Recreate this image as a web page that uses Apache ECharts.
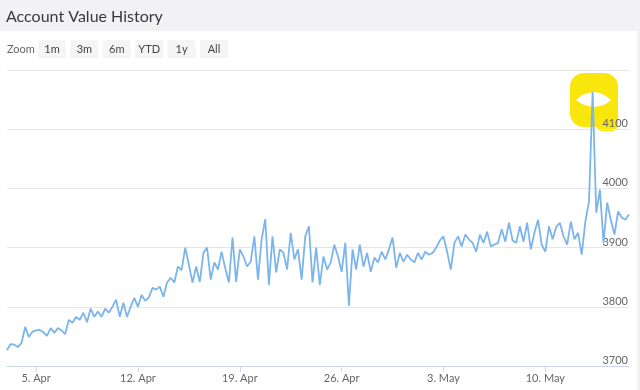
<!DOCTYPE html>
<html>
<head>
<meta charset="utf-8">
<script src="https://cdn.jsdelivr.net/npm/echarts@6/dist/echarts.min.js"></script>
<style>
html,body{margin:0;padding:0;background:#fff;}
#c{width:640px;height:390px;}
</style>
</head>
<body>
<div id="c"></div>
<script>
// ---- data ----
const titleText = 'Account Value History';
const zoomButtons = ['1m', '3m', '6m', 'YTD', '1y', 'All'];
const startTime = Date.UTC(2021, 3, 3, 0, 0);   // 3. Apr
const stepHours = 6;
const tickDates = [Date.UTC(2021,3,5), Date.UTC(2021,3,12), Date.UTC(2021,3,19), Date.UTC(2021,3,26), Date.UTC(2021,4,3), Date.UTC(2021,4,10)];
const tickLabels = ['5. Apr', '12. Apr', '19. Apr', '26. Apr', '3. May', '10. May'];
const yMin = 3700, yMax = 4200, yStep = 100;
const values = [
3727,3737,3736,3732,3739,3766,3749,3758,3760,3761,
3757,3751,3764,3756,3764,3760,3754,3778,3773,3783,
3778,3790,3774,3797,3783,3792,3783,3797,3790,3800,
3812,3783,3807,3783,3800,3815,3800,3820,3810,3816,
3832,3829,3834,3817,3841,3849,3841,3868,3862,3900,
3871,3841,3868,3842,3891,3900,3846,3875,3863,3893,
3865,3841,3917,3842,3897,3885,3868,3876,3919,3846,
3914,3948,3837,3919,3858,3897,3891,3863,3925,3880,
3897,3846,3919,3936,3841,3900,3837,3885,3863,3875,
3905,3885,3859,3908,3802,3897,3863,3905,3868,3891,
3859,3883,3875,3893,3880,3897,3917,3866,3891,3876,
3888,3880,3875,3891,3880,3893,3888,3891,3900,3912,
3919,3893,3863,3908,3919,3902,3922,3914,3908,3893,
3922,3908,3927,3902,3905,3908,3931,3910,3942,3912,
3908,3936,3910,3942,3897,3925,3947,3905,3893,3936,
3914,3935,3942,3919,3905,3944,3914,3925,3888,3944,
3978,4163,3959,3998,3908,3976,3947,3922,3961,3951,
3947,3956
];

// ---- chart ----
const step = stepHours * 3600 * 1000;
const seriesData = values.map((v, i) => [startTime + i * step, v]);
const chart = echarts.init(document.getElementById('c'), null, {renderer: 'canvas'});

const btnEls = [];
zoomButtons.forEach((b, i) => {
  btnEls.push({
    type: 'group', left: 38 + i * 32.4, top: 40,
    children: [
      {type: 'rect', shape: {x: 0, y: 0, width: 28, height: 18, r: 2}, style: {fill: '#f5f5f6'}},
      {type: 'text', style: {x: 14, y: 9, text: b, align: 'center', verticalAlign: 'middle', fill: '#444', font: '11px Lato'}}
    ]
  });
});

chart.setOption({
  animation: false,
  backgroundColor: '#fff',
  title: {
    text: titleText, left: 1, top: 4,
    textStyle: {fontFamily: 'Lato', fontSize: 16, fontWeight: 'normal', color: '#3a3a3a'}
  },
  graphic: [
    {type: 'rect', left: 0, top: 0, z: -10, shape: {width: 640, height: 31}, style: {fill: '#f2f2f4'}},
    {type: 'rect', left: 637, top: 31, z: -10, shape: {width: 3, height: 359}, style: {fill: '#f2f2f4'}},
    {type: 'text', left: 7, top: 44, style: {text: 'Zoom', fill: '#666', font: '11px Lato'}},
    ...btnEls,
    {type: 'rect', left: 570, top: 73, z: 0, shape: {width: 48, height: 54, r: 14}, style: {fill: '#f8e60c'}},
    {type: 'rect', left: 596, top: 110, z: 0, shape: {width: 22, height: 21, r: 6}, style: {fill: '#f8e60c'}},
    {type: 'polygon', z: 1, shape: {points: [[576,100],[582,95],[588,93],[594,92],[600,93],[606,96],[611,100],[606,104],[600,106],[594,107],[588,106],[582,104]]}, style: {fill: '#ffffff'}}
  ],
  grid: {left: 7, right: 11, top: 70, bottom: 24, containLabel: false},
  xAxis: {
    type: 'value',
    min: startTime,
    max: startTime + (values.length - 1) * step,
    axisLine: {show: true, lineStyle: {color: '#ccd6eb', width: 1}},
    axisTick: {show: true, customValues: tickDates, length: 6, lineStyle: {color: '#ccd6eb'}},
    axisLabel: {
      customValues: tickDates,
      margin: 7,
      color: '#666', fontSize: 11, fontFamily: 'Lato',
      formatter: function (v) {
        const idx = tickDates.indexOf(v);
        return idx >= 0 ? tickLabels[idx] : '';
      }
    },
    splitLine: {show: false}
  },
  yAxis: {
    type: 'value',
    position: 'right',
    min: yMin, max: yMax, interval: yStep,
    axisLine: {show: false},
    axisTick: {show: false},
    splitLine: {show: true, lineStyle: {color: '#e6e6e6', width: 1}},
    axisLabel: {
      inside: true, margin: 1,
      verticalAlign: 'bottom',
      color: '#666', fontSize: 11, fontFamily: 'Lato',
      formatter: function (v) { return v === yMax ? '' : String(v); }
    }
  },
  series: [{
    type: 'line',
    data: seriesData,
    showSymbol: false,
    symbol: 'none',
    lineStyle: {color: '#7cb5ec', width: 1.8},
    z: 3
  }]
});
</script>
</body>
</html>
